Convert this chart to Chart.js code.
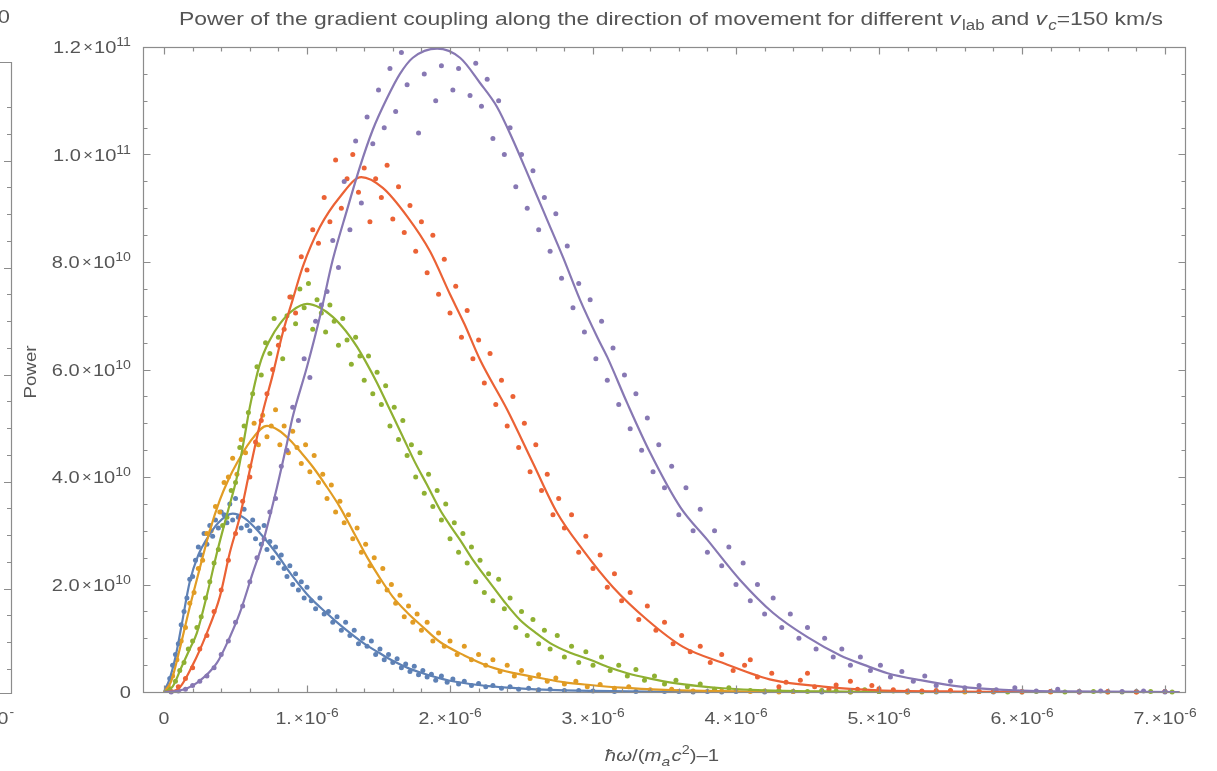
<!DOCTYPE html>
<html>
<head>
<meta charset="utf-8">
<script src="https://cdn.jsdelivr.net/npm/chart.js@4.4.1/dist/chart.umd.min.js"></script>
<style>
  html, body { margin: 0; padding: 0; background: #fff; }
  #wrap { width: 1217px; height: 771px; }
</style>
</head>
<body>
<div id="wrap"><canvas id="powerChart" width="1217" height="771"></canvas></div>
<script>
// x in units of 1e-6, y in units of 1e10

// Tick labels
const xTicks = [0, 1, 2, 3, 4, 5, 6, 7];
const xTickText = ['0', '1.', '2.', '3.', '4.', '5.', '6.', '7.'];
const xTickExp = ['', '-6', '-6', '-6', '-6', '-6', '-6', '-6'];
const yTicks = [0, 2, 4, 6, 8, 10, 12];
const yTickText = ['0', '2.0', '4.0', '6.0', '8.0', '1.0', '1.2'];
const yTickExp = ['', '10', '10', '10', '10', '11', '11'];

// Fitted curves
const blueFit = [[0,0],[0.04,0.25],[0.08,0.65],[0.12,1.2],[0.18,2.05],[0.24,2.55],[0.3,2.85],[0.38,3.15],[0.48,3.32],[0.56,3.24],[0.67,2.96],[0.78,2.6],[0.88,2.22],[1.0,1.82],[1.09,1.58],[1.2,1.32],[1.3,1.1],[1.4,0.9],[1.51,0.72],[1.6,0.58],[1.72,0.43],[1.82,0.34],[1.91,0.27],[2.0,0.21],[2.2,0.13],[2.4,0.08],[2.6,0.05],[2.8,0.03],[3.0,0.02],[3.5,0.005],[4.5,0],[7.1,0]];
const orangeFit = [[0,0],[0.05,0.2],[0.11,0.8],[0.18,1.58],[0.25,2.3],[0.32,3.0],[0.39,3.57],[0.45,3.95],[0.51,4.26],[0.6,4.65],[0.72,4.95],[0.8,4.87],[0.88,4.69],[0.96,4.45],[1.04,4.19],[1.13,3.85],[1.23,3.44],[1.32,3.0],[1.42,2.51],[1.51,2.12],[1.6,1.77],[1.7,1.48],[1.81,1.21],[1.93,0.93],[2.1,0.68],[2.28,0.47],[2.45,0.35],[2.63,0.26],[2.8,0.18],[2.98,0.13],[3.2,0.08],[3.5,0.04],[3.8,0.02],[4.2,0.005],[5.0,0],[7.1,0]];
const greenFit = [[0,0],[0.06,0.1],[0.12,0.45],[0.18,0.8],[0.23,1.1],[0.3,1.8],[0.37,2.59],[0.44,3.3],[0.51,4.0],[0.56,4.7],[0.6,5.3],[0.67,6.1],[0.74,6.55],[0.81,6.85],[0.9,7.1],[1.0,7.22],[1.09,7.15],[1.18,6.98],[1.27,6.72],[1.35,6.42],[1.42,6.1],[1.49,5.75],[1.58,5.25],[1.67,4.75],[1.75,4.3],[1.84,3.85],[1.93,3.39],[2.0,3.1],[2.07,2.83],[2.17,2.42],[2.28,2.03],[2.38,1.68],[2.49,1.34],[2.6,1.1],[2.7,0.91],[2.84,0.73],[2.98,0.6],[3.1,0.47],[3.24,0.35],[3.4,0.25],[3.56,0.17],[3.74,0.11],[3.91,0.07],[4.2,0.03],[4.6,0.01],[5.0,0],[7.1,0]];
const redFit = [[0,0],[0.09,0.04],[0.2,0.5],[0.3,1.1],[0.39,1.77],[0.46,2.59],[0.53,3.26],[0.6,4.13],[0.69,5.2],[0.76,5.9],[0.83,6.68],[0.9,7.3],[0.97,7.91],[1.09,8.65],[1.23,9.21],[1.38,9.58],[1.53,9.38],[1.7,8.85],[1.86,8.2],[2.0,7.4],[2.1,6.85],[2.21,6.18],[2.4,5.25],[2.58,4.26],[2.75,3.33],[2.93,2.64],[3.14,1.95],[3.38,1.34],[3.63,0.84],[3.91,0.54],[4.26,0.22],[4.61,0.1],[5.0,0.03],[5.5,0.01],[6.0,0],[7.1,0]];
const purpleFit = [[0,0],[0.1,0.02],[0.23,0.17],[0.37,0.54],[0.46,1.02],[0.53,1.47],[0.62,2.21],[0.69,2.77],[0.79,3.81],[0.86,4.63],[0.9,5.12],[1.0,6.05],[1.09,6.98],[1.18,8.04],[1.28,8.97],[1.37,9.77],[1.46,10.46],[1.56,11.05],[1.65,11.5],[1.74,11.8],[1.91,11.97],[2.07,11.8],[2.21,11.33],[2.33,10.88],[2.44,10.27],[2.56,9.53],[2.68,8.78],[2.79,8.09],[2.91,7.29],[3.03,6.6],[3.1,6.23],[3.24,5.37],[3.4,4.45],[3.61,3.44],[3.8,2.83],[4.03,2.08],[4.26,1.47],[4.5,1.02],[4.73,0.68],[4.9,0.5],[5.06,0.35],[5.29,0.22],[5.57,0.1],[5.87,0.04],[6.3,0.01],[7.1,0]];

// Simulated data points
const blueDots = [[0.02,0.08],[0.04,0.25],[0.06,0.5],[0.08,0.7],[0.1,0.9],[0.12,1.25],[0.14,1.5],[0.16,1.75],[0.18,2.1],[0.2,2.15],[0.22,2.45],[0.24,2.7],[0.26,2.55],[0.28,2.95],[0.3,2.75],[0.32,3.1],[0.34,2.9],[0.36,3.2],[0.38,3.05],[0.4,3.35],[0.42,3.3],[0.44,3.15],[0.46,3.5],[0.48,3.2],[0.5,3.6],[0.52,3.25],[0.54,3.05],[0.56,3.4],[0.58,3.1],[0.6,3.0],[0.62,3.2],[0.64,2.85],[0.66,3.05],[0.68,2.75],[0.7,3.1],[0.72,2.65],[0.74,2.8],[0.76,2.5],[0.78,2.7],[0.8,2.4],[0.82,2.55],[0.84,2.3],[0.86,2.15],[0.88,2.35],[0.9,2.0],[0.92,2.2],[0.94,1.9],[0.96,2.05],[0.98,1.75],[1.0,1.95],[1.03,1.7],[1.06,1.55],[1.09,1.75],[1.12,1.45],[1.15,1.5],[1.18,1.3],[1.21,1.4],[1.24,1.15],[1.27,1.3],[1.3,1.05],[1.33,1.15],[1.36,0.9],[1.39,1.0],[1.42,0.85],[1.45,0.95],[1.48,0.7],[1.51,0.8],[1.54,0.6],[1.57,0.7],[1.6,0.55],[1.63,0.62],[1.66,0.45],[1.69,0.52],[1.72,0.38],[1.75,0.48],[1.78,0.32],[1.81,0.4],[1.84,0.28],[1.87,0.33],[1.9,0.22],[1.94,0.3],[1.98,0.18],[2.02,0.24],[2.06,0.15],[2.1,0.2],[2.15,0.12],[2.2,0.16],[2.25,0.1],[2.3,0.12],[2.36,0.07],[2.42,0.1],[2.48,0.05],[2.55,0.07],[2.62,0.04],[2.7,0.05],[2.8,0.03],[2.9,0.03],[3.0,0.02],[3.15,0.01],[3.3,0.01],[3.5,0.01],[3.6,0.01],[3.7,0],[3.8,0.01],[3.9,0],[4.0,0.01],[4.2,0],[4.4,0.01],[4.6,0],[4.8,0],[5.0,0.01],[5.2,0],[5.4,0],[5.6,0.01],[5.8,0],[6.0,0],[6.2,0.01],[6.4,0],[6.6,0],[6.8,0.01],[7.0,0]];
const orangeDots = [[0.03,0.1],[0.06,0.3],[0.09,0.6],[0.12,0.95],[0.15,1.2],[0.18,1.65],[0.21,1.85],[0.24,2.3],[0.27,2.45],[0.3,2.95],[0.33,3.0],[0.36,3.45],[0.39,3.35],[0.42,3.9],[0.45,4.0],[0.48,4.35],[0.51,4.05],[0.54,4.7],[0.57,4.45],[0.6,4.2],[0.63,5.0],[0.66,4.6],[0.69,5.15],[0.72,4.75],[0.75,4.95],[0.78,5.25],[0.81,4.6],[0.84,4.95],[0.87,4.45],[0.9,4.85],[0.93,4.55],[0.96,4.25],[0.99,4.6],[1.02,4.1],[1.05,4.4],[1.08,3.9],[1.11,4.05],[1.14,3.6],[1.17,3.85],[1.2,3.35],[1.23,3.55],[1.26,3.15],[1.29,3.3],[1.32,2.85],[1.35,3.05],[1.38,2.6],[1.41,2.75],[1.44,2.35],[1.47,2.5],[1.5,2.05],[1.53,2.3],[1.56,1.9],[1.59,2.0],[1.62,1.65],[1.65,1.8],[1.68,1.4],[1.71,1.6],[1.74,1.3],[1.77,1.45],[1.8,1.15],[1.84,1.3],[1.88,0.95],[1.92,1.1],[1.96,0.85],[2.0,0.95],[2.05,0.7],[2.1,0.85],[2.15,0.6],[2.2,0.7],[2.25,0.5],[2.3,0.6],[2.35,0.38],[2.4,0.5],[2.45,0.3],[2.5,0.4],[2.56,0.25],[2.62,0.32],[2.68,0.2],[2.74,0.26],[2.8,0.15],[2.88,0.2],[2.96,0.1],[3.05,0.14],[3.15,0.07],[3.25,0.1],[3.4,0.04],[3.55,0.05],[3.7,0.02],[3.9,0.02],[4.1,0.01],[4.2,0.02],[4.3,0],[4.4,0.01],[4.6,0.02],[4.8,0],[5.0,0.01],[5.2,0],[5.4,0.01],[5.6,0],[5.8,0.01],[6.0,0],[6.2,0],[6.4,0.01],[6.6,0],[6.8,0],[7.0,0.01]];
const greenDots = [[0.04,0.05],[0.08,0.2],[0.11,0.4],[0.14,0.55],[0.17,0.8],[0.2,0.95],[0.23,1.2],[0.26,1.4],[0.29,1.75],[0.32,2.05],[0.35,2.4],[0.38,2.65],[0.41,3.1],[0.44,3.25],[0.47,3.75],[0.5,3.9],[0.53,4.55],[0.56,4.95],[0.59,5.2],[0.62,5.55],[0.65,6.05],[0.68,5.9],[0.71,6.5],[0.74,6.3],[0.77,6.95],[0.8,6.6],[0.83,6.2],[0.86,7.0],[0.89,7.35],[0.92,6.85],[0.95,7.5],[0.98,7.15],[1.01,7.6],[1.04,6.75],[1.07,7.3],[1.1,7.05],[1.13,6.7],[1.16,7.2],[1.19,6.9],[1.22,6.45],[1.25,6.95],[1.28,6.55],[1.31,6.1],[1.34,6.6],[1.37,6.25],[1.4,5.8],[1.43,6.25],[1.46,5.55],[1.49,5.95],[1.52,5.35],[1.55,5.7],[1.58,4.95],[1.61,5.3],[1.64,4.7],[1.67,5.05],[1.7,4.4],[1.73,4.6],[1.76,4.0],[1.79,4.45],[1.82,3.7],[1.85,4.05],[1.88,3.45],[1.91,3.75],[1.94,3.2],[1.97,3.5],[2.0,2.85],[2.03,3.15],[2.06,2.6],[2.09,2.95],[2.12,2.4],[2.15,2.7],[2.18,2.05],[2.21,2.45],[2.24,1.85],[2.27,2.2],[2.3,1.7],[2.34,2.1],[2.38,1.55],[2.42,1.75],[2.46,1.2],[2.5,1.5],[2.54,1.05],[2.58,1.35],[2.62,0.9],[2.66,1.15],[2.7,0.8],[2.75,1.05],[2.8,0.65],[2.85,0.85],[2.9,0.55],[2.95,0.75],[3.0,0.5],[3.06,0.65],[3.12,0.4],[3.18,0.5],[3.24,0.3],[3.3,0.42],[3.36,0.22],[3.43,0.3],[3.5,0.15],[3.58,0.22],[3.66,0.1],[3.75,0.15],[3.85,0.05],[3.95,0.08],[4.1,0.03],[4.3,0.03],[4.5,0.01],[4.6,0.03],[4.7,0.02],[4.8,0.01],[4.9,0.04],[5.0,0.01],[5.1,0.02],[5.3,0],[5.5,0.02],[5.7,0.01],[5.9,0],[6.1,0.01],[6.3,0],[6.5,0.01],[6.7,0],[6.9,0.01],[7.05,0]];
const redDots = [[0.05,0.01],[0.1,0.1],[0.15,0.25],[0.2,0.45],[0.25,0.8],[0.3,1.05],[0.35,1.5],[0.4,1.9],[0.45,2.45],[0.5,2.95],[0.55,3.55],[0.6,4.0],[0.64,4.65],[0.68,5.05],[0.72,5.55],[0.76,6.0],[0.8,6.45],[0.84,6.75],[0.88,7.35],[0.92,7.05],[0.96,8.1],[1.0,7.85],[1.04,8.6],[1.08,8.35],[1.12,9.2],[1.16,8.75],[1.2,9.9],[1.24,9.0],[1.28,9.55],[1.32,10.0],[1.36,9.3],[1.4,9.75],[1.44,8.75],[1.48,9.55],[1.52,9.2],[1.56,9.8],[1.6,8.8],[1.64,9.4],[1.68,8.55],[1.72,9.05],[1.76,8.2],[1.8,8.75],[1.84,7.8],[1.88,8.5],[1.92,7.4],[1.96,8.05],[2.0,7.05],[2.04,7.55],[2.08,6.6],[2.12,7.1],[2.16,6.2],[2.2,6.55],[2.24,5.75],[2.28,6.3],[2.32,5.35],[2.36,5.8],[2.4,4.95],[2.44,5.5],[2.48,4.55],[2.52,5.0],[2.56,4.1],[2.6,4.6],[2.64,3.75],[2.68,4.05],[2.72,3.3],[2.76,3.6],[2.8,3.05],[2.85,3.3],[2.9,2.6],[2.95,2.9],[3.0,2.3],[3.05,2.55],[3.1,1.95],[3.15,2.2],[3.2,1.7],[3.26,1.85],[3.32,1.35],[3.38,1.6],[3.44,1.15],[3.5,1.3],[3.56,0.9],[3.62,1.05],[3.68,0.75],[3.75,0.85],[3.82,0.55],[3.9,0.7],[3.98,0.4],[4.06,0.5],[4.1,0.6],[4.15,0.28],[4.25,0.35],[4.3,0.1],[4.35,0.18],[4.45,0.22],[4.5,0.35],[4.55,0.1],[4.65,0.05],[4.7,0.13],[4.8,0.2],[4.85,0.05],[4.95,0.12],[5.0,0.06],[5.1,0.04],[5.2,0.02],[5.3,0.02],[5.4,0.03],[5.5,0.03],[5.7,0.01],[5.8,0.02],[6.0,0.01],[6.2,0.01],[6.4,0],[6.6,0.01],[6.8,0],[7.0,0.01]];
const purpleDots = [[0.05,0.0],[0.1,0.02],[0.15,0.05],[0.2,0.12],[0.25,0.2],[0.3,0.3],[0.35,0.45],[0.4,0.7],[0.45,0.95],[0.5,1.3],[0.55,1.6],[0.6,2.05],[0.65,2.5],[0.7,2.85],[0.74,3.35],[0.78,3.6],[0.82,4.2],[0.86,4.5],[0.9,5.3],[0.94,5.05],[0.98,6.2],[1.02,5.85],[1.06,6.9],[1.1,7.2],[1.14,7.45],[1.18,8.4],[1.22,7.9],[1.26,9.5],[1.3,8.6],[1.34,10.25],[1.38,9.1],[1.42,10.7],[1.46,10.2],[1.5,11.2],[1.54,10.5],[1.58,11.6],[1.62,10.8],[1.66,11.9],[1.7,11.3],[1.74,12.1],[1.78,10.4],[1.82,11.5],[1.86,12.2],[1.9,11.0],[1.94,11.65],[1.98,12.3],[2.02,11.2],[2.06,11.6],[2.1,12.2],[2.14,11.1],[2.18,11.7],[2.22,10.9],[2.26,11.4],[2.3,10.3],[2.34,11.0],[2.38,10.0],[2.42,10.5],[2.46,9.4],[2.5,10.0],[2.54,9.0],[2.58,9.7],[2.62,8.6],[2.66,9.2],[2.7,8.2],[2.74,8.9],[2.78,7.7],[2.82,8.3],[2.86,7.15],[2.9,7.6],[2.94,6.7],[2.98,7.3],[3.02,6.2],[3.06,6.9],[3.1,5.8],[3.14,6.4],[3.18,5.35],[3.22,5.9],[3.26,4.9],[3.3,5.55],[3.34,4.5],[3.38,5.1],[3.42,4.1],[3.46,4.6],[3.5,3.8],[3.55,4.2],[3.6,3.3],[3.65,3.8],[3.7,3.0],[3.75,3.4],[3.8,2.6],[3.85,3.0],[3.9,2.35],[3.95,2.7],[4.0,2.0],[4.05,2.4],[4.1,1.7],[4.15,2.0],[4.2,1.45],[4.26,1.75],[4.32,1.2],[4.38,1.45],[4.44,1.0],[4.5,1.2],[4.56,0.8],[4.62,1.0],[4.68,0.65],[4.74,0.8],[4.8,0.5],[4.87,0.65],[4.94,0.4],[5.01,0.5],[5.08,0.28],[5.16,0.38],[5.24,0.2],[5.32,0.3],[5.4,0.12],[5.5,0.2],[5.6,0.08],[5.7,0.12],[5.82,0.04],[5.95,0.08],[6.1,0.02],[6.25,0.05],[6.4,0.01],[6.55,0.02],[6.7,0.01],[6.85,0.02],[7.0,0.01]];

const colors = {
  blue: '#5e81b5',
  orange: '#e19c24',
  green: '#8fb032',
  red: '#eb6235',
  purple: '#8778b3'
};

const toXY = arr => arr.map(p => ({ x: p[0], y: p[1] }));

const series = [
  ['purple', purpleFit, purpleDots],
  ['red', redFit, redDots],
  ['green', greenFit, greenDots],
  ['orange', orangeFit, orangeDots],
  ['blue', blueFit, blueDots]
];

const datasets = [];
series.forEach((s, i) => {
  datasets.push({
    data: toXY(s[1]),
    showLine: true,
    borderColor: colors[s[0]],
    borderWidth: 2.2,
    pointRadius: 0,
    cubicInterpolationMode: 'monotone',
    order: i,
    clip: 0
  });
});
series.forEach((s, i) => {
  datasets.push({
    data: toXY(s[2]),
    showLine: false,
    backgroundColor: colors[s[0]],
    borderWidth: 0,
    pointRadius: 2.5,
    order: 5 + i,
    clip: { left: 4, right: 4, top: 0, bottom: 4 }
  });
});

const GREY = '#555555';
const FRAME = '#8c8c8c';
const FONT = '"Liberation Sans"';

// text runs: [text, font, dy, gapAfter]
function pieceWidth(ctx, pieces) {
  let w = 0;
  pieces.forEach(p => { ctx.font = p[1]; w += ctx.measureText(p[0]).width + (p[3] || 0); });
  return w;
}
function drawPieces(ctx, pieces, x, y, align, sx) {
  sx = sx || 1;
  const w = pieceWidth(ctx, pieces) * sx;
  const x0 = align === 'right' ? x - w : align === 'center' ? x - w / 2 : x;
  ctx.save();
  ctx.translate(x0, y);
  ctx.scale(sx, 1);
  let cx = 0;
  pieces.forEach(p => {
    ctx.font = p[1];
    ctx.fillText(p[0], cx, p[2]);
    cx += ctx.measureText(p[0]).width + (p[3] || 0);
  });
  ctx.restore();
}
function sciPieces(mant, exp) {
  if (!exp) return [[mant, '17px ' + FONT, 0]];
  return [
    [mant, '17px ' + FONT, 0, 2],
    ['\u00d7', '14px ' + FONT, -1, 1],
    ['10', '17px ' + FONT, 0],
    [exp, '12px ' + FONT, -7]
  ];
}

const framePlugin = {
  id: 'mmaFrame',
  afterDraw(chart) {
    const ctx = chart.ctx;
    const a = chart.chartArea;
    const xs = chart.scales.x, ys = chart.scales.y;
    ctx.save();
    ctx.strokeStyle = FRAME;
    ctx.lineWidth = 1.2;
    const L = Math.round(a.left) + 0.5, R = Math.round(a.right) + 0.5;
    const T = Math.round(a.top) + 0.5, B = Math.round(a.bottom) + 0.5;
    ctx.strokeRect(L, T, R - L, B - T);
    ctx.beginPath();
    for (let i = 0; i <= 35; i++) {
      const px = Math.round(xs.getPixelForValue(i * 0.2)) + 0.5;
      const len = i % 5 === 0 ? 7 : 4;
      ctx.moveTo(px, B); ctx.lineTo(px, B - len);
      ctx.moveTo(px, T); ctx.lineTo(px, T + len);
    }
    for (let i = 0; i <= 24; i++) {
      const py = Math.round(ys.getPixelForValue(i * 0.5)) + 0.5;
      const len = i % 4 === 0 ? 7 : 4;
      ctx.moveTo(L, py); ctx.lineTo(L + len, py);
      ctx.moveTo(R, py); ctx.lineTo(R - len, py);
    }
    ctx.stroke();

    // neighbouring panel cut off at the left edge
    ctx.beginPath();
    ctx.moveTo(0, 62.5); ctx.lineTo(11.5, 62.5); ctx.lineTo(11.5, 693.5); ctx.lineTo(0, 693.5);
    for (let k = 0; k <= 21; k++) {
      const py = Math.round(669 - k * 26.76) + 0.5;
      ctx.moveTo(11.5, py); ctx.lineTo(k % 4 === 3 ? 4 : 7, py);
    }
    ctx.stroke();

    ctx.fillStyle = GREY;
    ctx.textBaseline = 'alphabetic';
    ctx.textAlign = 'left';
    drawPieces(ctx, [['0', '19px ' + FONT, 0]], 10, 23, 'right', 1.15);
    drawPieces(ctx, [['0', '17px ' + FONT, 0, 1], ['-', '12px ' + FONT, -8]], 14, 724, 'right', 1.15);

    // tick labels
    xTicks.forEach((v, i) => {
      const px = xs.getPixelForValue(v);
      drawPieces(ctx, sciPieces(xTickText[i], xTickExp[i]), px, 724, 'center', 1.15);
    });
    yTicks.forEach((v, i) => {
      const py = ys.getPixelForValue(v);
      drawPieces(ctx, sciPieces(yTickText[i], yTickExp[i]), a.left - 12, py + 6, 'right', 1.18);
    });

    // title
    const tf = '19px ' + FONT, ti = 'italic 19px ' + FONT;
    const sf = '14px ' + FONT, si = 'italic 14px ' + FONT;
    const titlePieces = [
      ['Power of the gradient coupling along the direction of movement for different ', tf, 0],
      ['v', ti, 0, 1], ['lab', sf, 5], [' and ', tf, 0],
      ['v', ti, 0, 1], ['c', si, 5], ['=150 km/s', tf, 0]
    ];
    const titleStretch = 984 / pieceWidth(ctx, titlePieces);
    drawPieces(ctx, titlePieces, 671, 25, 'center', titleStretch);

    // x axis label
    const af = '17px ' + FONT, ai = 'italic 17px ' + FONT;
    drawPieces(ctx, [
      ['\u0127\u03c9', ai, 0], ['/(', af, 0], ['m', ai, 0], ['a', 'italic 13px ' + FONT, 5, 1],
      ['c', ai, 0], ['2', '12px ' + FONT, -7], [')\u20131', af, 0]
    ], 662, 761, 'center', 1.2);

    // y axis label
    ctx.translate(36, 372);
    ctx.rotate(-Math.PI / 2);
    drawPieces(ctx, [['Power', '17px ' + FONT, 0]], 0, 0, 'center', 1.1);
    ctx.restore();
  }
};

new Chart(document.getElementById('powerChart'), {
  type: 'scatter',
  data: { datasets },
  options: {
    responsive: false,
    animation: false,
    devicePixelRatio: 1,
    layout: { padding: { left: 143, right: 32, top: 47, bottom: 79 } },
    plugins: { legend: { display: false }, tooltip: { enabled: false }, title: { display: false } },
    scales: {
      x: { type: 'linear', min: -0.147, max: 7.14, display: false },
      y: { type: 'linear', min: 0, max: 12, display: false }
    }
  },
  plugins: [framePlugin]
});
</script>
</body>
</html>
